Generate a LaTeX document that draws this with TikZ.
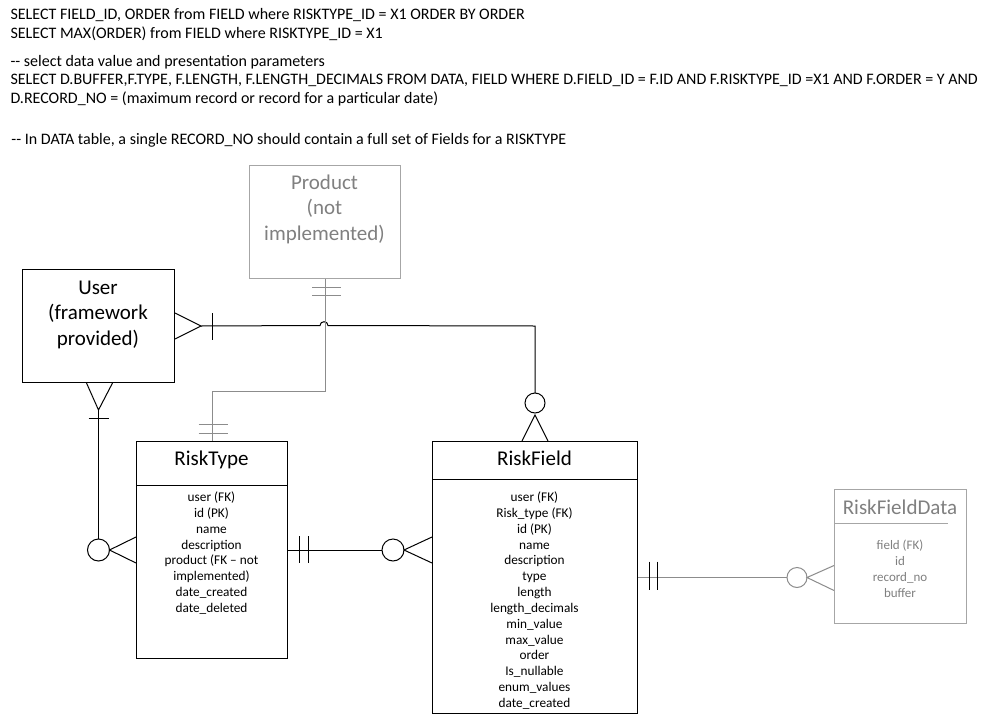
\documentclass[tikz,border=0pt]{standalone}
\usepackage{fontspec}
\setmainfont{Carlito}
\usetikzlibrary{calc}
\definecolor{boxgrey}{HTML}{A6A6A6}
\definecolor{txtgrey}{HTML}{808080}
\definecolor{lingrey}{HTML}{8C8C8C}
\begin{document}
\begin{tikzpicture}[x=1pt,y=-1pt,line width=1pt,
  ent/.style={draw=black,anchor=north west,inner sep=0pt,line width=1pt},
  gent/.style={draw=boxgrey,anchor=north west,inner sep=0pt,line width=1pt},
  ttl/.style={font=\fontsize{21}{25.5}\selectfont,anchor=base,inner sep=0pt,align=center},
  attr/.style={font=\fontsize{13.3}{15.85}\selectfont,anchor=base,inner sep=0pt,align=center},
  toptext/.style={font=\fontsize{16}{18}\selectfont,anchor=base west,inner sep=0pt},
  rel/.style={draw=black,line width=1pt},
  grel/.style={draw=lingrey,line width=1pt}]
\useasboundingbox (0,0) rectangle (1002,718);
\fill[white] (0,0) rectangle (1002,718);

% top text
\node[toptext] (q1) at (10,19.5) {SELECT FIELD\_ID, ORDER from FIELD where RISKTYPE\_ID = X1 ORDER BY ORDER};
\node[toptext] (q2) at (10,38) {SELECT MAX(ORDER) from FIELD where RISKTYPE\_ID = X1};
\node[toptext] (q3) at (10,66) {-{}- select data value and presentation parameters};
\node[toptext] (q4) at (10,84) {SELECT D.BUFFER,F.TYPE, F.LENGTH, F.LENGTH\_DECIMALS FROM DATA, FIELD WHERE D.FIELD\_ID = F.ID AND F.RISKTYPE\_ID =X1 AND F.ORDER = Y AND};
\node[toptext] (q5) at (10,103) {D.RECORD\_NO = (maximum record or record for a particular date)};
\node[toptext] (q6) at (11,144) {-{}- In DATA table, a single RECORD\_NO should contain a full set of Fields for a RISKTYPE};

% entity boxes
\node[ent,minimum width=152pt,minimum height=113pt] (user) at (22,269) {};
\node[gent,minimum width=151pt,minimum height=113pt] (product) at (249,165) {};
\node[ent,minimum width=151pt,minimum height=217pt] (risktype) at (136,441) {};
\node[ent,minimum width=205pt,minimum height=272pt] (riskfield) at (432,441) {};
\node[gent,minimum width=132pt,minimum height=134pt] (rfd) at (834,489) {};

% dividers
\draw[rel] (136,485) -- (287,485);
\draw[rel] (432,479) -- (637,479);
\draw[draw=boxgrey] (834,523) -- (948,523);

% titles (multi-line nodes: base anchor = last baseline)
\node[ttl] (userT) at (98,345) {User\\(framework\\provided)};
\node[ttl,text=txtgrey] (prodT) at (324.5,240) {Product\\(not\\implemented)};
\node[ttl] (rtT) at (211.5,465) {RiskType};
\node[ttl] (rfT) at (534.5,465) {RiskField};
\node[ttl,text=txtgrey] (rfdT) at (900,514) {RiskFieldData};

% attributes
\node[attr] (rtA) at (211.5,612.5) {user (FK)\\id (PK)\\name\\description\\product (FK – not\\implemented)\\date\_created\\date\_deleted};
\node[attr] (rfA) at (534.5,707.5) {user (FK)\\Risk\_type (FK)\\id (PK)\\name\\description\\type\\length\\length\_decimals\\min\_value\\max\_value\\order\\Is\_nullable\\enum\_values\\date\_created};
\node[attr,text=txtgrey,font=\fontsize{13}{15.7}\selectfont] (rfdA) at (900,597) {field (FK)\\id\\record\_no\\buffer};

% User -- RiskField
\draw[rel] ($(user.east)+(0,-13)$) -- ($(user.east)+(26,0)$) -- ($(user.east)+(0,13)$);
\draw[rel] ($(user.east)+(37,-13)$) -- ($(user.east)+(37,14)$);
\draw[rel] ($(user.east)+(26,0)$) -- (320,325.5) .. controls (320,320.5) and (328,320.5) .. (328,325.5)
  -- (riskfield.north |- user.east) -- ($(riskfield.north)+(0,-48)$);
\draw[rel] ($(riskfield.north)+(0,-38)$) circle[radius=10pt];
\draw[rel] ($(riskfield.north)+(-13,0)$) -- ($(riskfield.north)+(0,-26)$) -- ($(riskfield.north)+(13,0)$);

% User -- RiskType
\draw[rel] ($(user.south)+(-12,0)$) -- ($(user.south)+(0,27)$) -- ($(user.south)+(14,0)$);
\draw[rel] ($(user.south)+(-10,35)$) -- ($(user.south)+(10,35)$);
\draw[rel] ($(user.south)+(0,27)$) -- ($(user.south |- risktype.west)+(0,-11)$);
\draw[rel] (user.south |- risktype.west) circle[radius=11pt];
\draw[rel] ($(risktype.west)+(0,-13)$) -- ($(user.south |- risktype.west)+(11,0)$) -- ($(risktype.west)+(0,13)$);

% Product -- RiskType
\coordinate (pk) at (0,391);
\draw[grel] (product.south) -- (product.south |- pk) -- (risktype.north |- pk) -- (risktype.north);
\draw[grel] ($(product.south)+(-13,8)$) -- ++(29,0);
\draw[grel] ($(product.south)+(-13,16)$) -- ++(29,0);
\draw[grel] ($(risktype.north)+(-13.5,-17)$) -- ++(29,0);
\draw[grel] ($(risktype.north)+(-13.5,-8)$) -- ++(29,0);

% RiskType -- RiskField
\draw[rel] (risktype.east) -- ($(riskfield.west |- risktype.east)+(-50,0)$);
\draw[rel] ($(riskfield.west |- risktype.east)+(-39,0)$) circle[radius=11pt];
\draw[rel] ($(riskfield.west |- risktype.east)+(0,-13)$) -- ($(riskfield.west |- risktype.east)+(-28,0)$) -- ($(riskfield.west |- risktype.east)+(0,13)$);
\draw[rel] ($(risktype.east)+(11,-14)$) -- ++(0,27);
\draw[rel] ($(risktype.east)+(20,-14)$) -- ++(0,27);

% RiskField -- RiskFieldData
\draw[grel] (riskfield.east) -- ($(rfd.west |- riskfield.east)+(-47,0)$);
\draw[grel] ($(rfd.west |- riskfield.east)+(-37,0)$) circle[radius=10pt];
\draw[grel] ($(rfd.west |- riskfield.east)+(0,-12)$) -- ($(rfd.west |- riskfield.east)+(-27,0)$) -- ($(rfd.west |- riskfield.east)+(0,13)$);
\draw[rel] ($(riskfield.east)+(11,-16)$) -- ++(0,28);
\draw[rel] ($(riskfield.east)+(19,-16)$) -- ++(0,28);
\end{tikzpicture}
\end{document}
